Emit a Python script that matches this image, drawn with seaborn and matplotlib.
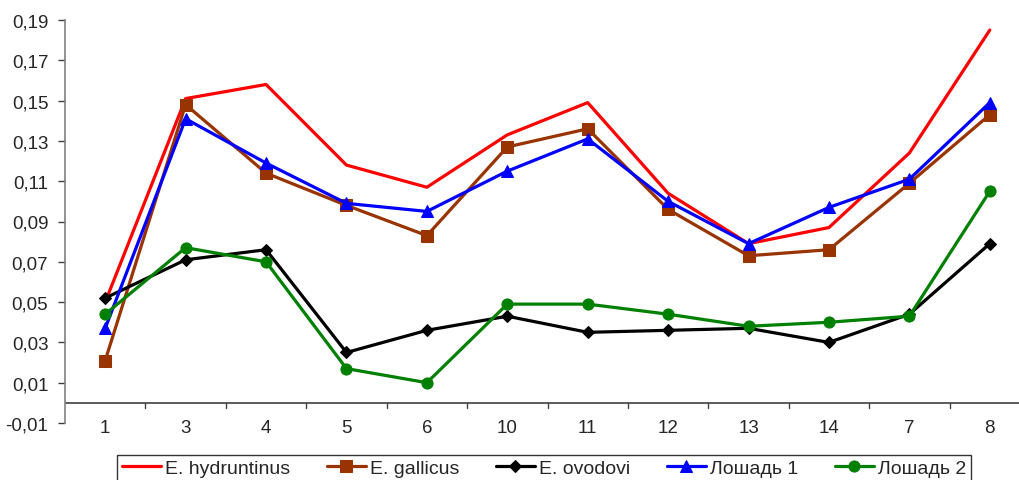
import numpy as np
import pandas as pd
import matplotlib
matplotlib.use("Agg")
import matplotlib.pyplot as plt
import seaborn as sns
from matplotlib.ticker import FuncFormatter

sns.set_style("white")
plt.rcParams['font.family'] = ['Liberation Sans', 'DejaVu Sans']

categories = ["1", "3", "4", "5", "6", "10", "11", "12", "13", "14", "7", "8"]

hydruntinus = [0.050, 0.151, 0.158, 0.118, 0.107, 0.133, 0.149, 0.104, 0.079, 0.087, 0.124, 0.185]
gallicus = [0.021, 0.148, 0.114, 0.098, 0.083, 0.127, 0.136, 0.096, 0.073, 0.076, 0.109, 0.143]
ovodovi = [0.052, 0.071, 0.076, 0.025, 0.036, 0.043, 0.035, 0.036, 0.037, 0.030, 0.044, 0.079]
horse1 = [0.037, 0.141, 0.119, 0.099, 0.095, 0.115, 0.131, 0.100, 0.079, 0.097, 0.111, 0.149]
horse2 = [0.044, 0.077, 0.070, 0.017, 0.010, 0.049, 0.049, 0.044, 0.038, 0.040, 0.043, 0.105]

series = [
    ("E. hydruntinus", hydruntinus, "#ff0000", None),
    ("E. gallicus", gallicus, "#993300", "s"),
    ("E. ovodovi", ovodovi, "#000000", "D"),
    ("Лошадь 1", horse1, "#0000ff", "^"),
    ("Лошадь 2", horse2, "#008000", "o"),
]

pos = np.arange(len(categories))

fig = plt.figure(figsize=(10.19, 4.81), dpi=100)
ax = fig.add_axes([65 / 1019, 57 / 481, 965 / 1019, 403 / 481])

for name, vals, col, mk in series:
    df = pd.DataFrame({"x": pos, "y": vals})
    ms = 8 if mk != "^" else 9
    if mk == "D":
        ms = 6
    sns.lineplot(data=df, x="x", y="y", ax=ax, color=col, linewidth=2.3,
                 marker=mk, markersize=ms, markeredgecolor=col, label=name,
                 sort=False)

ax.set_xlim(-0.5, len(categories) - 0.5)
ax.set_ylim(-0.01, 0.19)
ax.set_yticks(np.arange(-0.01, 0.1901, 0.02))
ax.yaxis.set_major_formatter(FuncFormatter(lambda v, p: ("%.2f" % v).replace(".", ",")))
ax.set_xticks(pos)
ax.set_xticklabels(categories)
ax.set_xlabel("")
ax.set_ylabel("")

for s in ["top", "right", "bottom"]:
    ax.spines[s].set_visible(False)
ax.spines["left"].set_color("#808080")
ax.spines["left"].set_linewidth(1.2)
ax.axhline(0, color="#404040", linewidth=1.2, zorder=0)

ax.tick_params(axis="y", which="major", left=True, length=5, width=1,
               color="#404040", labelsize=13.5, pad=7)
ax.tick_params(axis="x", which="major", bottom=False, length=0, labelsize=13.5, pad=-3)

# boundary ticks hanging from the zero line
for b in np.arange(0.5, len(categories) - 0.5, 1):
    ax.plot([b, b], [0, -0.0025], color="#404040", linewidth=1, clip_on=False)

leg = ax.legend(loc="upper center", bbox_to_anchor=(544 / 1019, 1 - 446 / 481),
                bbox_transform=fig.transFigure, ncol=5, frameon=True, fancybox=False,
                fontsize=14, handlelength=2.0, handletextpad=0.2, columnspacing=1.9,
                borderpad=0.25)
leg.get_frame().set_edgecolor("black")
leg.get_frame().set_linewidth(1)

fig.savefig("out.png", dpi=100)
